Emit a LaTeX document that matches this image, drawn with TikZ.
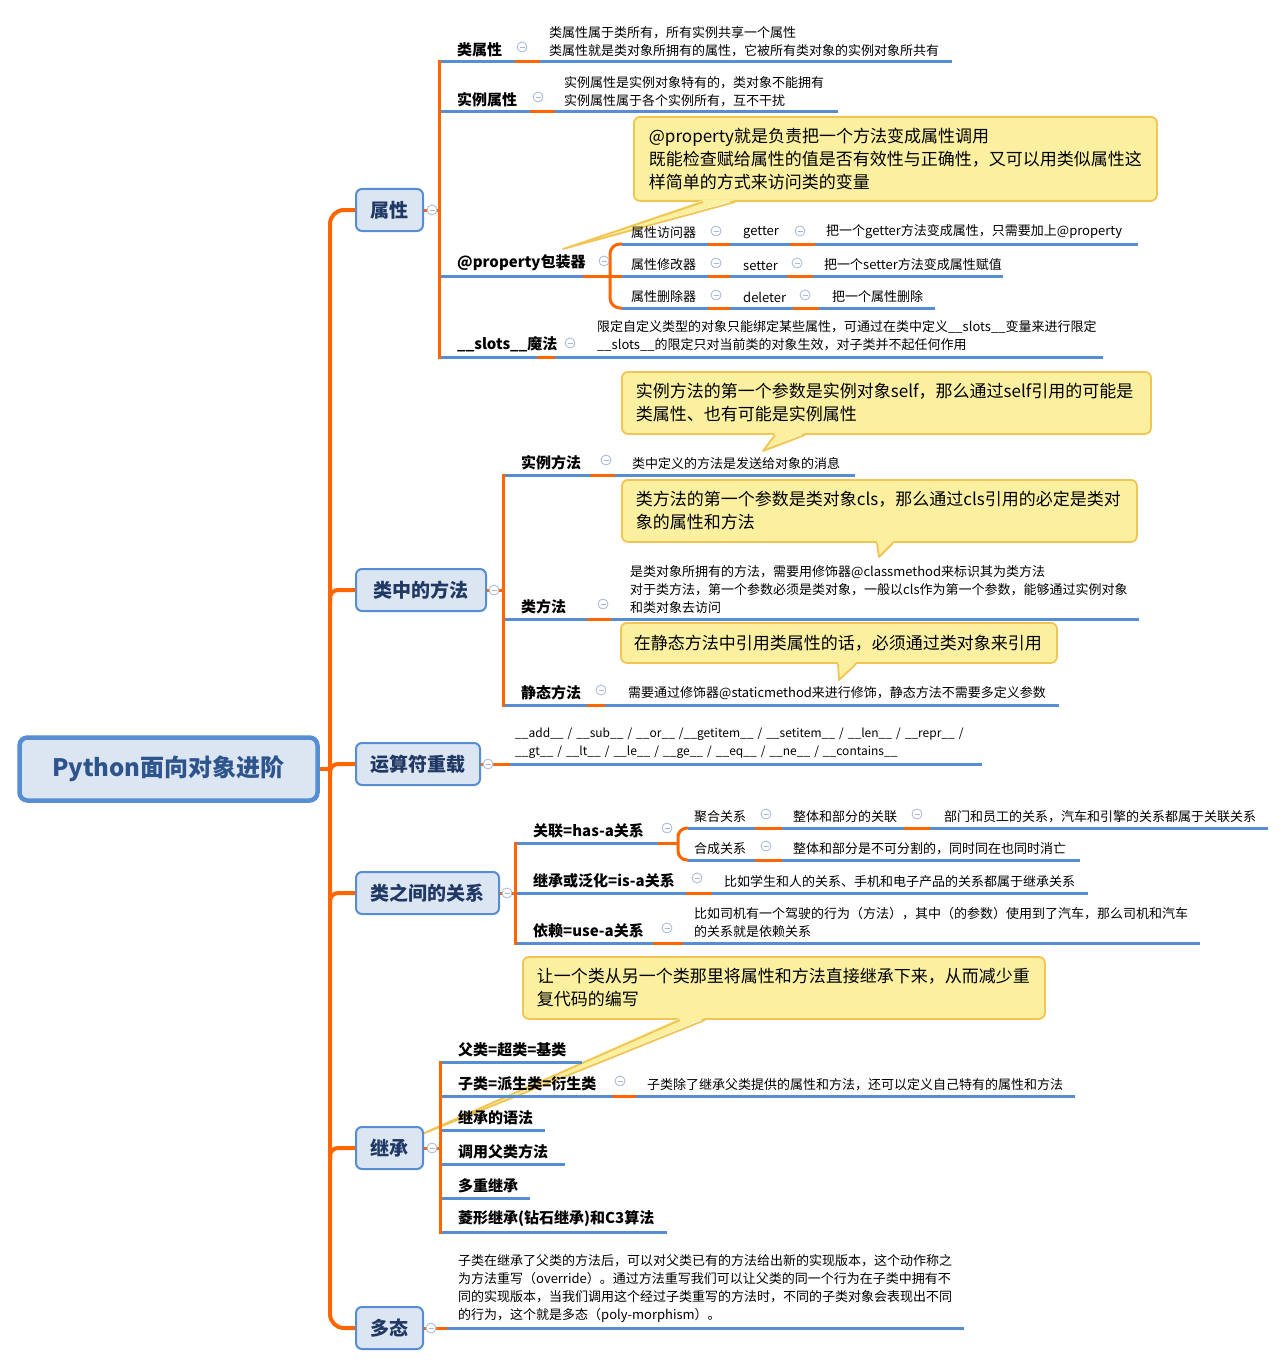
\documentclass[tikz,border=0pt]{standalone}
\usepackage{fontspec}
\setmainfont{Noto Sans CJK SC}
\usepackage{xcolor}
\usetikzlibrary{positioning,calc}
\definecolor{branch}{RGB}{255,102,0}
\definecolor{uline}{RGB}{86,141,211}
\definecolor{topicfill}{RGB}{220,230,242}
\definecolor{topicdraw}{RGB}{86,141,211}
\definecolor{topictext}{RGB}{31,56,100}
\definecolor{roottext}{RGB}{46,84,140}
\definecolor{memofill}{RGB}{250,240,160}
\definecolor{memodraw}{RGB}{242,196,84}
\definecolor{foldc}{RGB}{165,182,218}
\hfuzz=300pt \hbadness=10000
\exhyphenpenalty=10000 \hyphenpenalty=10000

\begin{document}
\begin{tikzpicture}[x=1pt,y=-1pt]
            \tikzstyle{root}=[rectangle, rounded corners=8, draw=topicdraw, line width=4.5, fill=topicfill, text=roottext, font=\fontsize{24}{28}\selectfont\bfseries, minimum width=298, minimum height=63]
            \tikzstyle{topic}=[rectangle, anchor=west, rounded corners=6, draw=topicdraw, line width=2, fill=topicfill, text=topictext, font=\fontsize{19}{22}\selectfont\bfseries, minimum height=42]
            \tikzstyle{lab}=[anchor=south west, inner xsep=18, inner ysep=5, align=left, font=\fontsize{15}{18}\selectfont\bfseries]
            \tikzstyle{sub}=[anchor=south west, inner ysep=5, align=left, font=\fontsize{13}{18}\selectfont]
            \tikzstyle{note}=[anchor=south west, inner ysep=5, align=left, font=\fontsize{13}{18}\selectfont]
            \tikzstyle{memo}=[rectangle, anchor=north west, rounded corners=6, draw=memodraw, line width=1.8, fill=memofill, align=left, font=\fontsize{17}{23}\selectfont]
            \tikzstyle{memoedge}=[memodraw, line width=1.8, line join=round]
            \tikzstyle{fold}=[circle, draw=foldc, fill=white, line width=0.8, minimum size=10, inner sep=0,
                path picture={\draw[foldc, line width=0.9] ($(path picture bounding box.west)+(2.5,0)$) -- ($(path picture bounding box.east)+(-2.5,0)$);}]
            \tikzstyle{ul}=[uline, line width=3]
            \tikzstyle{br}=[branch, line width=3]
            \tikzstyle{trunk}=[branch, line width=4]

            \path[use as bounding box, fill=white] (0,0) rectangle (1286,1367);

            \node[memo, minimum width=521, minimum height=84, inner xsep=15, text width=493] (c1) at (633,116) {@property就是负责把一个方法变成属性调用\\既能检查赋给属性的值是否有效性与正确性，又可以用类似属性这\\样简单的方式来访问类的变量};
            \node[memo, minimum width=527, minimum height=62, inner xsep=14, text width=501] (c2) at (621,371) {实例方法的第一个参数是实例对象self，那么通过self引用的可能是\\类属性、也有可能是实例属性};
            \node[memo, minimum width=513, minimum height=62, inner xsep=14, text width=487] (c3) at (621,479) {类方法的第一个参数是类对象cls，那么通过cls引用的必定是类对\\象的属性和方法};
            \node[memo, minimum width=434, minimum height=40, inner xsep=13, text width=410] (c4) at (620,622) {在静态方法中引用类属性的话，必须通过类对象来引用};
            \node[memo, minimum width=520, minimum height=62, inner xsep=14, text width=494] (c5) at (522,956) {让一个类从另一个类那里将属性和方法直接继承下来，从而减少重\\复代码的编写};

            \foreach \c/\a/\b/\t in {c1/{703,202}/{735,202}/{563,249},c2/{775,435}/{805,435}/{763,451},c3/{877,543}/{893,543}/{879,557},c4/{838,664}/{856,664}/{839,680},c5/{680,1020}/{705,1020}/{415,1137}}
            {
                \coordinate (\c a) at (\a);
                \coordinate (\c b) at (\b);
                \coordinate (\c t) at (\t);
                \fill[memofill] ($(\c a)+(0,-2)$) -- (\c t) -- ($(\c b)+(0,-2)$) -- cycle;
                \draw[memoedge] (\c a) -- (\c t) -- (\c b);
            }

            \node[root] (root) at (168.5,769) {Python面向对象进阶};
            \node[topic, minimum width=67] (kA) at (355,210) {属性};
            \node[topic, minimum width=130] (kB) at (355,590) {类中的方法};
            \node[topic, minimum width=124] (kC) at (355,764) {运算符重载};
            \node[topic, minimum width=143] (kD) at (355,893) {类之间的关系};
            \node[topic, minimum width=67] (kE) at (355,1148) {继承};
            \node[topic, minimum width=67] (kF) at (355,1328) {多态};

            \node[lab, text width=40] (lA1) at (439,62) {类属性};
            \node[note, inner xsep=9, text width=394] (nA1) at (540,62) {类属性属于类所有，所有实例共享一个属性\\类属性就是类对象所拥有的属性，它被所有类对象的实例对象所共有};
            \node[lab, text width=55] (lA2) at (439,112) {实例属性};
            \node[note, inner xsep=9, text width=265] (nA2) at (555,112) {实例属性是实例对象特有的，类对象不能拥有\\实例属性属于各个实例所有，互不干扰};
            \node[lab, text width=108] (lA3) at (439,276) {@property包装器};
            \node[sub, inner xsep=9, text width=68] (sP1) at (622,244) {属性访问器};
            \node[sub, inner xsep=9, text width=68] (sP2) at (622,276) {属性修改器};
            \node[sub, inner xsep=9, text width=68] (sP3) at (622,308) {属性删除器};
            \node[sub, inner xsep=13, text width=34] (gP1) at (730,244) {getter};
            \node[sub, inner xsep=13, text width=31] (gP2) at (730,276) {setter};
            \node[sub, inner xsep=13, text width=37] (gP3) at (730,308) {deleter};
            \node[note, inner xsep=11, text width=301] (dP1) at (815,244) {把一个getter方法变成属性，只需要加上@property};
            \node[note, inner xsep=11, text width=168] (dP2) at (813,276) {把一个setter方法变成属性赋值};
            \node[note, inner xsep=13, text width=90] (dP3) at (819,308) {把一个属性删除};
            \node[lab, text width=62] (lA4) at (439,357) {\_\_slots\_\_魔法};
            \node[note, inner xsep=42, text width=464] (nA4) at (555,357) {限定自定义类型的对象只能绑定某些属性，可通过在类中定义\_\_slots\_\_变量来进行限定\\\_\_slots\_\_的限定只对当前类的对象生效，对子类并不起任何作用};

            \node[lab, text width=51] (lB1) at (503,475) {实例方法};
            \node[note, inner xsep=17, text width=206] (nB1) at (615,475) {类中定义的方法是发送给对象的消息};
            \node[lab, text width=48] (lB2) at (503,619) {类方法};
            \node[note, inner xsep=19, text width=490] (nB2) at (611,619) {是类对象所拥有的方法，需要用修饰器@classmethod来标识其为类方法\\对于类方法，第一个参数必须是类对象，一般以cls作为第一个参数，能够通过实例对象\\和类对象去访问};
            \node[lab, text width=48] (lB3) at (503,705) {静态方法};
            \node[note, inner xsep=23, text width=408] (nB3) at (605,705) {需要通过修饰器@staticmethod来进行修饰，静态方法不需要多定义参数};

            \node[note, inner xsep=5, text width=462, font=\fontsize{12}{18}\selectfont] (nC1) at (510,764) {\_\_add\_\_~/~\_\_sub\_\_~/~\_\_or\_\_~/\_\_getitem\_\_~/~\_\_setitem\_\_~/~\_\_len\_\_~/~\_\_repr\_\_~/\\\_\_gt\_\_~/~\_\_lt\_\_~/~\_\_le\_\_~/~\_\_ge\_\_~/~\_\_eq\_\_~/~\_\_ne\_\_~/~\_\_contains\_\_};

            \node[lab, text width=107] (lD1) at (515,843) {关联=has-a关系};
            \node[sub, inner xsep=6, text width=55] (sD1) at (688,828) {聚合关系};
            \node[sub, inner xsep=6, text width=55] (sD2) at (688,860) {合成关系};
            \node[sub, inner xsep=11, text width=100] (sD3) at (782,828) {整体和部分的关联};
            \node[note, inner xsep=11, text width=276] (sD4) at (782,860) {整体和部分是不可分割的，同时同在也同时消亡};
            \node[note, inner xsep=14, text width=310] (nD1) at (930,828) {部门和员工的关系，汽车和引擎的关系都属于关联关系};
            \node[lab, text width=135] (lD2) at (515,893) {继承或泛化=is-a关系};
            \node[note, inner xsep=12, text width=352] (nD2) at (712,893) {比如学生和人的关系、手机和电子产品的关系都属于继承关系};
            \node[lab, text width=102] (lD3) at (515,943) {依赖=use-a关系};
            \node[note, inner xsep=11, text width=495] (nD3) at (683,943) {比如司机有一个驾驶的行为（方法），其中（的参数）使用到了汽车，那么司机和汽车\\的关系就是依赖关系};

            \node[lab, text width=106] (lE1) at (440,1062) {父类=超类=基类};
            \node[lab, text width=136] (lE2) at (440,1096) {子类=派生类=衍生类};
            \node[note, inner xsep=11, text width=417] (nE2) at (636,1096) {子类除了继承父类提供的属性和方法，还可以定义自己特有的属性和方法};
            \node[lab, text width=69] (lE3) at (440,1130) {继承的语法};
            \node[lab, text width=89] (lE4) at (440,1164) {调用父类方法};
            \node[lab, text width=54] (lE5) at (440,1198) {多重继承};
            \node[lab, text width=191] (lE6) at (440,1232) {菱形继承(钻石继承)和C3算法};

            \node[note, inner xsep=11, text width=495] (nF1) at (447,1328) {子类在继承了父类的方法后，可以对父类已有的方法给出新的实现版本，这个动作称之\\为方法重写（override）。通过方法重写我们可以让父类的同一个行为在子类中拥有不\\同的实现版本，当我们调用这个经过子类重写的方法时，不同的子类对象会表现出不同\\的行为，这个就是多态（poly-morphism）。};

            \foreach \n in {lA1,lA2,lA3,lA4,nA1,nA2,nA4,sP1,sP2,sP3,gP1,gP2,gP3,dP1,dP2,dP3,lB1,lB2,lB3,nB1,nB2,nB3,nC1,lD1,lD2,lD3,sD1,sD2,sD3,sD4,nD1,nD2,nD3,lE1,lE2,lE3,lE4,lE5,lE6,nE2,nF1}
                \draw[ul] (\n.south west) -- (\n.south east);

            \coordinate (tr) at (330,769);
            \draw[trunk] (root.east) -- (tr);
            \draw[trunk, rounded corners=14] (kA.west) -| (tr) |- (kF.west);
            \foreach \k in {kB,kC,kD,kE}
                \draw[trunk, rounded corners=8] ($(tr |- \k.west)+(0,12)$) |- (\k.west);

            \draw[br] (kA.east) -- (kA.east -| lA1.south west);
            \draw[br, line cap=rect] (lA1.south west) -- (lA4.south west);
            \draw[br] (kB.east) -- (kB.east -| lB1.south west);
            \draw[br, line cap=rect] (lB1.south west) -- (lB3.south west);
            \draw[br] (kC.east) -- (nC1.south west);
            \draw[br] (kD.east) -- (kD.east -| lD1.south west);
            \draw[br, line cap=rect] (lD1.south west) -- (lD3.south west);
            \draw[br] (kE.east) -- (kE.east -| lE1.south west);
            \draw[br, line cap=rect] (lE1.south west) -- (lE6.south west);
            \draw[br] (kF.east) -- (nF1.south west);

            \foreach \a/\b in {lA1/nA1,lA2/nA2,lA4/nA4,sP1/gP1,gP1/dP1,sP2/gP2,gP2/dP2,sP3/gP3,gP3/dP3,lB1/nB1,lB2/nB2,lB3/nB3,sD1/sD3,sD3/nD1,sD2/sD4,lD2/nD2,lD3/nD3,lE2/nE2}
                \draw[br] (\a.south east) -- (\b.south west);

            \coordinate (pb) at (610,276);
            \draw[br] (lA3.south east) -- (pb) -- (sP2.south west);
            \draw[br, rounded corners=10] (sP1.south west) -| (pb) |- (sP3.south west);
            \coordinate (pd) at (678,843);
            \draw[br] (lD1.south east) -- (pd);
            \draw[br, rounded corners=9] (sD1.south west) -| (pd) |- (sD2.south west);

            \foreach \n/\p in {fA/{432,210},fB/{494,590},fC/{488,764},fD/{507,893},fE/{432,1148},fF/{431,1328},
                f1/{522,47},f2/{538,97},f3/{604,261},f4/{570,343},f5/{716,231},f6/{716,263},f7/{716,295},
                f8/{800,231},f9/{797,263},f10/{805,295},f11/{606,460},f12/{603,604},f13/{601,690},
                f14/{667,828},f15/{766,814},f16/{917,814},f17/{766,846},f18/{697,878},f19/{667,928},f20/{620,1081}}
                \node[fold] (\n) at (\p) {};
        \end{tikzpicture}
\end{document}
